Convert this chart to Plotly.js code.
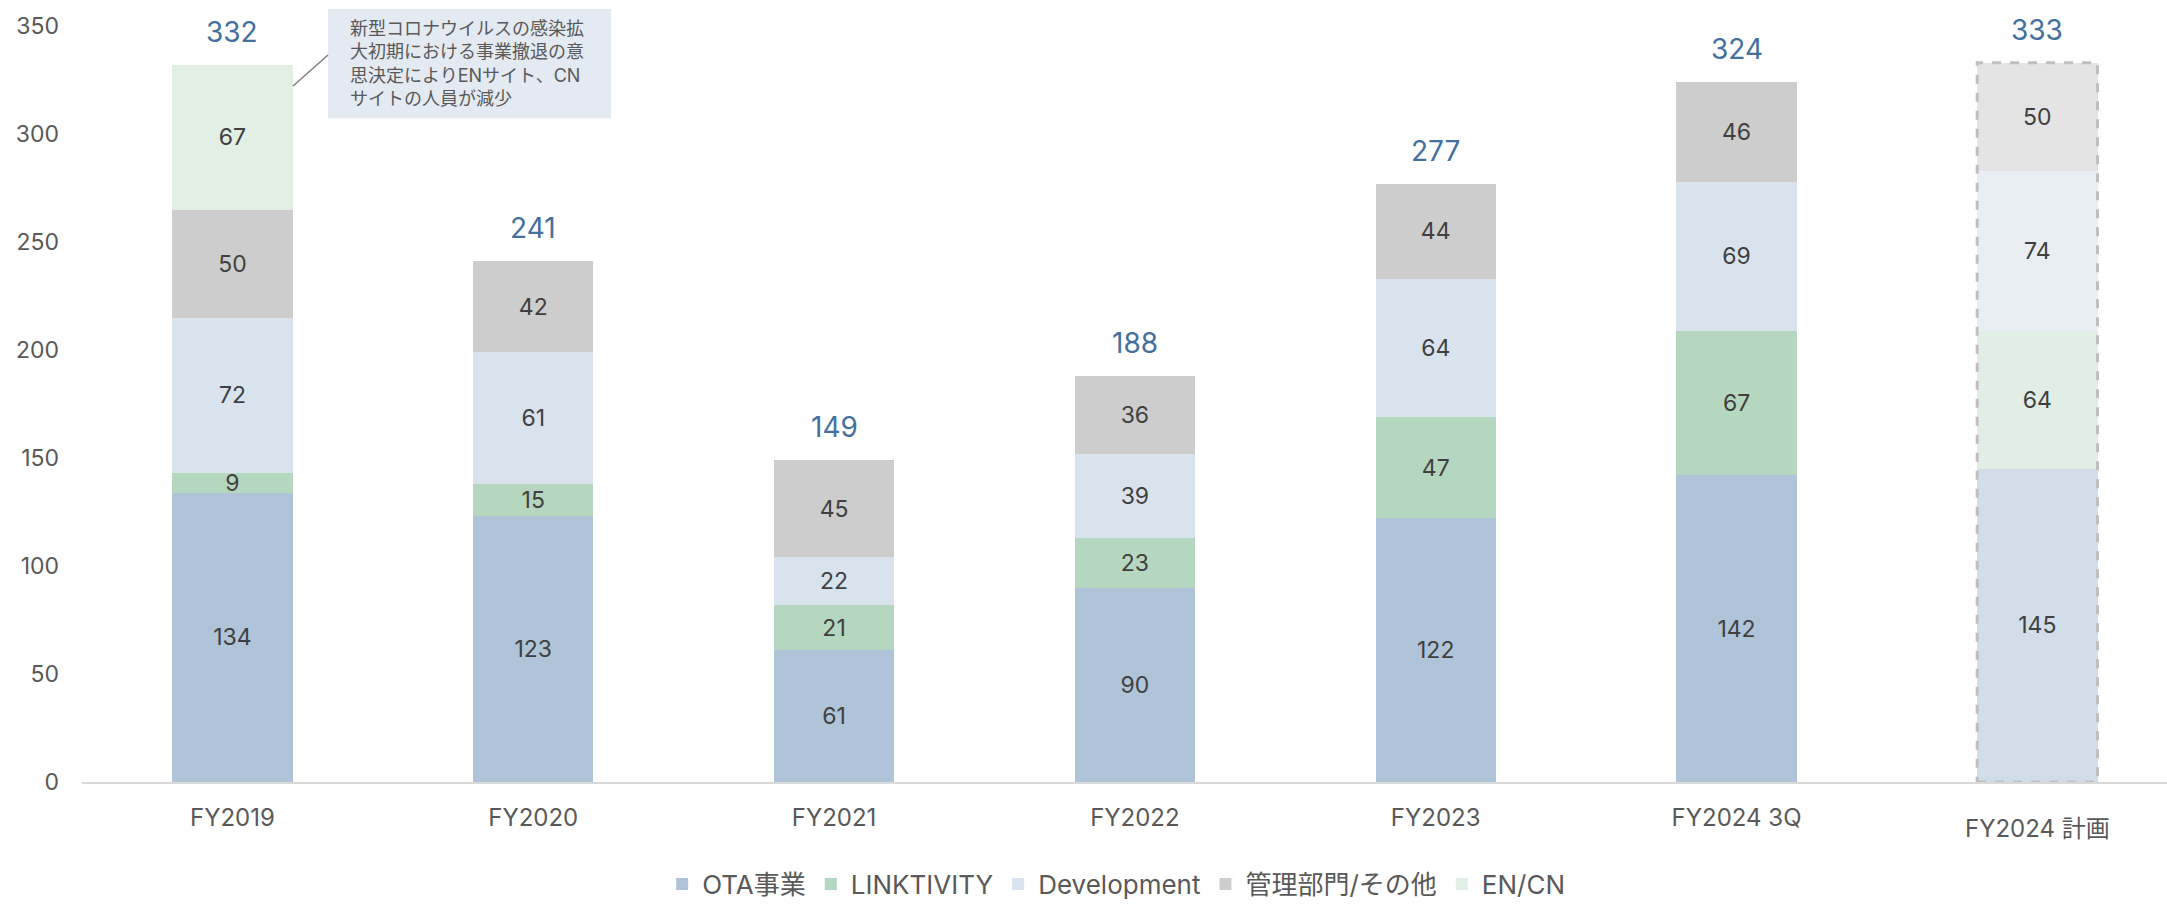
<!DOCTYPE html>
<html>
<head>
<meta charset="utf-8">
<script src="https://cdn.plot.ly/plotly-3.0.1.min.js"></script>
<style>
  html, body { margin: 0; padding: 0; background: #fff; }
  #plot { width: 2167px; height: 904px; }
</style>
</head>
<body>
<div id="plot"></div>
<script>
const categories = ['FY2019', 'FY2020', 'FY2021', 'FY2022', 'FY2023', 'FY2024 3Q', 'FY2024 計画'];
const ota = [134, 123, 61, 90, 122, 142, 145];
const linktivity = [9, 15, 21, 23, 47, 67, 64];
const development = [72, 61, 22, 39, 64, 69, 74];
const kanri = [50, 42, 45, 36, 44, 46, 50];
const encn = [67, null, null, null, null, null, null];
const totals = [332, 241, 149, 188, 277, 324, 333];

const FONT = 'Inter, "Noto Sans CJK JP", sans-serif';
const xs = categories.map((c, i) => i);
const barWidth = 0.4;
const planIndex = 6;

// normal colour, and lighter colour for the plan bar
function colors(normal, plan) {
    return xs.map(i => i === planIndex ? plan : normal);
}

function series(name, values, normal, plan) {
    return {
        type: 'bar',
        name: name,
        x: xs,
        y: values,
        width: barWidth,
        marker: { color: colors(normal, plan), line: { width: 0 } },
        text: values.map(v => v === null ? '' : String(v)),
        textposition: 'inside',
        insidetextanchor: 'middle',
        textangle: 0,
        constraintext: 'none',
        textfont: { family: FONT, size: 23, color: '#404040' },
        hoverinfo: 'skip'
    };
}

const traces = [
    series('OTA事業', ota, '#afc4d9', '#d1dde9'),
    series('LINKTIVITY', linktivity, '#b6d7bf', '#e1eee5'),
    series('Development', development, '#d9e3ed', '#e8eef4'),
    series('管理部門/その他', kanri, '#cdcdcd', '#e4e4e4'),
    series('EN/CN', encn, '#e1efe5', '#e1efe5')
];

// totals above each bar
const annotations = totals.map((t, i) => ({
    x: i, y: t, xref: 'x', yref: 'y',
    text: String(t), showarrow: false,
    yanchor: 'bottom', yshift: 14,
    font: { family: FONT, size: 28, color: '#44709d' }
}));

// the plan category label sits a little lower
annotations.push({
    x: planIndex, y: 0, xref: 'x', yref: 'y',
    text: categories[planIndex], showarrow: false,
    yanchor: 'middle', yshift: -46,
    font: { family: FONT, size: 24, color: '#595959' }
});

// callout text
annotations.push({
    xref: 'paper', yref: 'paper', x: 0.1276, y: 0.95,
    xanchor: 'left', yanchor: 'middle', align: 'left', showarrow: false,
    text: '新型コロナウイルスの感染拡<br>大初期における事業撤退の意<br>思決定によりENサイト、CN<br>サイトの人員が減少',
    font: { family: FONT, size: 18, color: '#595959' }
});

const shapes = [
    {
        type: 'rect', xref: 'x', yref: 'y',
        x0: planIndex - barWidth / 2, x1: planIndex + barWidth / 2,
        y0: 0, y1: totals[planIndex],
        line: { color: '#bfbfbf', width: 3, dash: 'dash' },
        fillcolor: 'rgba(0,0,0,0)'
    },
    {
        type: 'rect', xref: 'paper', yref: 'paper',
        x0: 0.118, x1: 0.2537, y0: 0.878, y1: 1.0225,
        line: { width: 0 }, fillcolor: '#e4eaf1', layer: 'below'
    },
    {
        type: 'line', xref: 'paper', yref: 'paper',
        x0: 0.1012, y0: 0.9206, x1: 0.118, y1: 0.9616,
        line: { color: '#7f7f7f', width: 1.5 }
    }
];

const layout = {
    width: 2167,
    height: 904,
    margin: { l: 82, r: 0, t: 26, b: 122, autoexpand: false },
    barmode: 'stack',
    paper_bgcolor: '#ffffff',
    plot_bgcolor: '#ffffff',
    font: { family: FONT, size: 22, color: '#595959' },
    xaxis: {
        type: 'linear',
        range: [-0.5, 6.431],
        tickvals: xs,
        ticktext: categories.map((c, i) => i === planIndex ? '' : c),
        ticks: '',
        showgrid: false,
        zeroline: false,
        showline: true,
        linecolor: '#d9d9d9',
        linewidth: 2,
        ticklabelstandoff: 13,
        tickfont: { family: FONT, size: 24, color: '#595959' }
    },
    yaxis: {
        range: [0, 350],
        dtick: 50,
        showgrid: false,
        zeroline: false,
        showline: false,
        ticks: '',
        ticklabelstandoff: 22,
        tickfont: { family: FONT, size: 23, color: '#595959' }
    },
    legend: {
        orientation: 'h',
        x: 0.496, xanchor: 'center',
        y: -0.135, yanchor: 'middle',
        font: { family: FONT, size: 26, color: '#595959' },
        traceorder: 'normal',
        itemclick: false,
        tracegroupgap: 0
    },
    annotations: annotations,
    shapes: shapes,
    showlegend: true
};

Plotly.newPlot('plot', traces, layout, { displayModeBar: false, staticPlot: true });
</script>
</body>
</html>
